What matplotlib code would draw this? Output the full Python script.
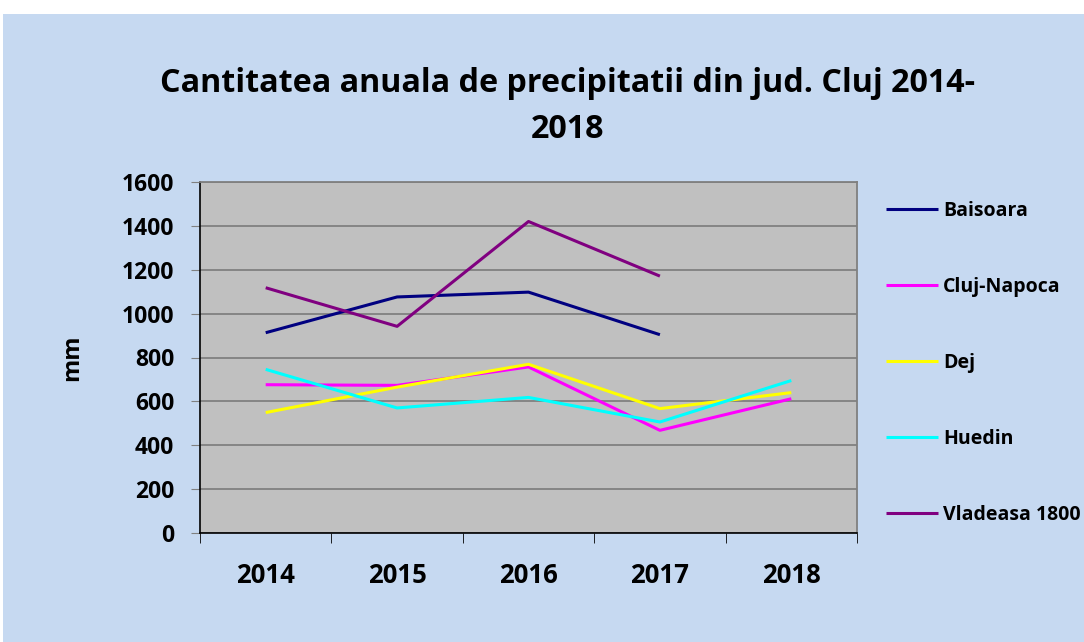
import matplotlib.pyplot as plt
import numpy as np

years = ['2014', '2015', '2016', '2017', '2018']
baisoara = [913, 1076, 1098, 904, np.nan]
cluj_napoca = [676, 673, 757, 468, 612]
dej = [549, 665, 769, 567, 640]
huedin = [746, 570, 618, 506, 695]
vladeasa = [1118, 942, 1420, 1171, np.nan]

series = [
    ('Baisoara', baisoara, '#000080'),
    ('Cluj-Napoca', cluj_napoca, '#FF00FF'),
    ('Dej', dej, '#FFFF00'),
    ('Huedin', huedin, '#00FFFF'),
    ('Vladeasa 1800', vladeasa, '#800080'),
]

plt.rcParams['font.family'] = ['Open Sans', 'DejaVu Sans']
plt.rcParams['font.weight'] = 'bold'

fig = plt.figure(figsize=(10.84, 6.42), dpi=100)
fig.patch.set_facecolor('white')
# light blue chart area (small white margin at top/left like the source)
bg = plt.Rectangle((3 / 1084, 0), 1, 1 - 14 / 642, transform=fig.transFigure,
                   facecolor='#C6D9F1', edgecolor='none', zorder=-10)
fig.patches.append(bg)

ax = fig.add_axes([200 / 1084, 1 - 533 / 642, 657 / 1084, 351 / 642])
ax.set_facecolor('#C0C0C0')

x = np.arange(len(years))
for name, vals, col in series:
    ax.plot(x, vals, color=col, lw=2.2, label=name, solid_capstyle='butt')

ax.set_xlim(-0.5, len(years) - 0.5)
ax.set_ylim(0, 1600)
ax.set_yticks(range(0, 1601, 200))
ax.yaxis.grid(True, color='#808080', lw=1.3)
ax.set_axisbelow(True)

ax.set_xticks(x)
ax.set_xticklabels(years, fontsize=18.5, fontweight='bold')
ax.set_xticks(np.arange(-0.5, len(years), 1), minor=True)
ax.tick_params(axis='x', which='major', length=0, pad=21)
ax.tick_params(axis='x', which='minor', length=7, color='black', direction='out')
ax.tick_params(axis='y', length=6.5, color='#808080', labelsize=16.5, pad=12)
for lbl in ax.get_yticklabels():
    lbl.set_fontweight('bold')

ax.spines['left'].set_color('black')
ax.spines['bottom'].set_color('black')
ax.spines['left'].set_linewidth(1.2)
ax.spines['bottom'].set_linewidth(1.2)
ax.spines['top'].set_color('#808080')
ax.spines['right'].set_color('#808080')
ax.spines['top'].set_linewidth(1.3)
ax.spines['right'].set_linewidth(1.3)

fig.text(72 / 1084, 1 - 358 / 642, 'mm', rotation=90, fontsize=17,
         fontweight='bold', ha='center', va='center')

fig.text(568 / 1084, 1 - 83 / 642, 'Cantitatea anuala de precipitatii din jud. Cluj 2014-',
         fontsize=23.2, fontweight='bold', ha='center', va='center')
fig.text(568 / 1084, 1 - 130 / 642, '2018', fontsize=23.2, fontweight='bold',
         ha='center', va='center')

leg = ax.legend(loc='upper left', bbox_to_anchor=(1.032, 0.969), frameon=False,
                fontsize=14, handlelength=2.7, handletextpad=0.25,
                labelspacing=2.88, borderaxespad=0.0)
for t in leg.get_texts():
    t.set_fontweight('bold')

plt.savefig('out.png', dpi=100, facecolor=fig.get_facecolor())
plt.close()
